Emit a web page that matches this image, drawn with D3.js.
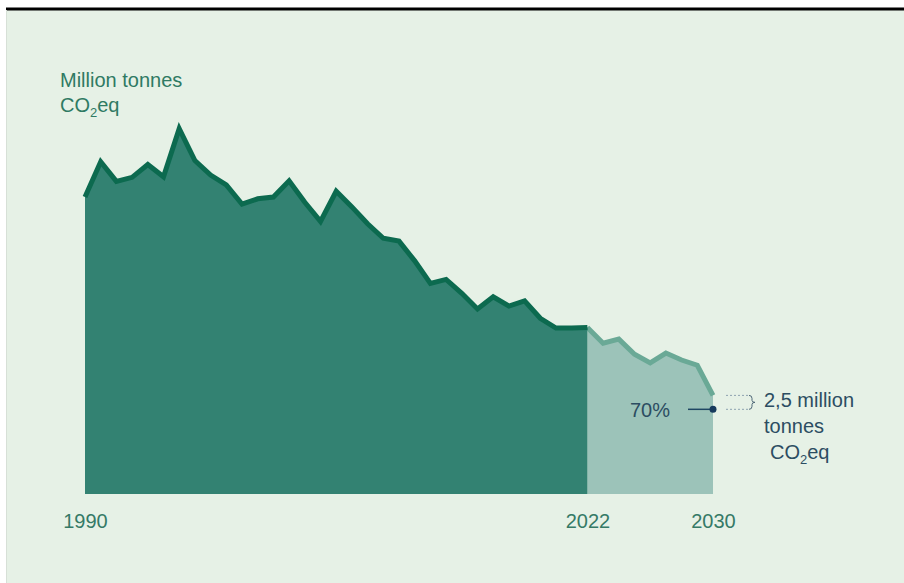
<!DOCTYPE html>
<html>
<head>
<meta charset="utf-8">
<script src="https://cdn.jsdelivr.net/npm/d3@7"></script>
<style>
  html, body { margin: 0; padding: 0; background: #ffffff; }
  svg { display: block; }
  text { font-family: "Liberation Sans", Arial, sans-serif; }
</style>
</head>
<body>
<svg id="chart" width="904" height="583"></svg>
<script>
// ---- Data (million tonnes CO2eq) ----
const histYears = [1990,1991,1992,1993,1994,1995,1996,1997,1998,1999,2000,2001,2002,2003,2004,2005,2006,2007,2008,2009,2010,2011,2012,2013,2014,2015,2016,2017,2018,2019,2020,2021,2022];
const histValues = [51.2,57.3,53.9,54.6,56.8,54.7,63.0,57.5,55.0,53.3,50.0,50.9,51.2,54.0,50.3,47.0,52.2,49.5,46.6,44.1,43.6,40.2,36.3,37.0,34.6,31.9,34.0,32.4,33.3,30.3,28.6,28.6,28.7];
const projYears = [2022,2023,2024,2025,2026,2027,2028,2029,2030];
const projValues = [28.7,26.0,26.7,24.1,22.6,24.3,23.1,22.2,17.0];
const targetYear = 2030;
const targetValue = 14.6;   // 70 % target level
const tickYears = [1990, 2022, 2030];
const tickLabels = ["1990", "2022", "2030"];

const svg = d3.select("#chart");

// Panel background + top rule
svg.append("rect").attr("x", 6).attr("y", 10).attr("width", 898).attr("height", 573)
  .attr("fill", "#e6f1e6");
svg.append("line").attr("x1", 6).attr("x2", 904).attr("y1", 9).attr("y2", 9)
  .attr("stroke", "#000").attr("stroke-width", 3);
svg.append("line").attr("x1", 6.5).attr("x2", 6.5).attr("y1", 10).attr("y2", 583)
  .attr("stroke", "#d7e0d7").attr("stroke-width", 1);

const x = d3.scaleLinear().domain([1990, 2030]).range([85, 713]);
const y = d3.scaleLinear().domain([0, 60]).range([494, 146]);

const hist = histYears.map((d, i) => ({year: d, value: histValues[i]}));
const proj = projYears.map((d, i) => ({year: d, value: projValues[i]}));

const area = d3.area().x(d => x(d.year)).y0(y(0)).y1(d => y(d.value));
const line = d3.line().x(d => x(d.year)).y(d => y(d.value));

// projection
svg.append("path").datum(proj).attr("d", area).attr("fill", "#9cc3b9");
svg.append("path").datum(proj).attr("d", line).attr("fill", "none")
  .attr("stroke", "#6aa996").attr("stroke-width", 5).attr("stroke-linejoin", "miter");

// history
svg.append("path").datum(hist).attr("d", area).attr("fill", "#338272");
svg.append("path").datum(hist).attr("d", line).attr("fill", "none")
  .attr("stroke", "#0c6a4f").attr("stroke-width", 5).attr("stroke-linejoin", "miter")
  .attr("stroke-miterlimit", 10);

// x axis
const axis = d3.axisBottom(x).tickValues(tickYears)
  .tickFormat((d, i) => tickLabels[i]).tickSize(0).tickPadding(20);
const gAxis = svg.append("g").attr("transform", `translate(0,${y(0)})`).call(axis);
gAxis.select(".domain").remove();
gAxis.selectAll("text").attr("font-family", "'Liberation Sans', Arial, sans-serif")
  .attr("font-size", 20).attr("fill", "#357a66");

// unit title
const t = svg.append("g").attr("fill", "#2f7a63").attr("font-size", 20);
t.append("text").attr("x", 60).attr("y", 87).text("Million tonnes");
const co = t.append("text").attr("x", 60).attr("y", 112);
co.append("tspan").text("CO");
co.append("tspan").attr("font-size", 13).attr("dy", 5).text("2");
co.append("tspan").attr("dy", -5).text("eq");

// target marker
const tx = x(targetYear), ty = y(targetValue);
svg.append("line").attr("x1", tx - 25).attr("x2", tx).attr("y1", ty).attr("y2", ty)
  .attr("stroke", "#1f4763").attr("stroke-width", 1.5);
svg.append("circle").attr("cx", tx).attr("cy", ty).attr("r", 3.5).attr("fill", "#163a5c");
svg.append("text").attr("x", tx - 83).attr("y", ty + 8).attr("font-size", 20)
  .attr("fill", "#2c4d62").text("70%");

// gap bracket between projection end and target
const yTop = y(projValues[projValues.length - 1]);
const gapG = svg.append("g").attr("stroke", "#8ea3b0").attr("stroke-width", 1).attr("fill", "none");
gapG.append("line").attr("x1", tx + 13).attr("x2", tx + 35).attr("y1", yTop).attr("y2", yTop)
  .attr("stroke-dasharray", "2,2");
gapG.append("line").attr("x1", tx + 13).attr("x2", tx + 35).attr("y1", ty).attr("y2", ty)
  .attr("stroke-dasharray", "2,2");
const bx = tx + 36, mid = (yTop + ty) / 2;
gapG.append("path").attr("stroke", "#4f6878")
  .attr("d", `M${bx},${yTop} q3,0 3,3 v${mid - yTop - 5} q0,2 3,2 q-3,0 -3,2 v${ty - mid - 5} q0,3 -3,3`);

const ann = svg.append("g").attr("fill", "#2c4d62").attr("font-size", 20);
ann.append("text").attr("x", 764).attr("y", 407).text("2,5 million");
ann.append("text").attr("x", 764).attr("y", 433).text("tonnes");
const co2 = ann.append("text").attr("x", 770).attr("y", 459);
co2.append("tspan").text("CO");
co2.append("tspan").attr("font-size", 13).attr("dy", 5).text("2");
co2.append("tspan").attr("dy", -5).text("eq");
</script>
</body>
</html>
